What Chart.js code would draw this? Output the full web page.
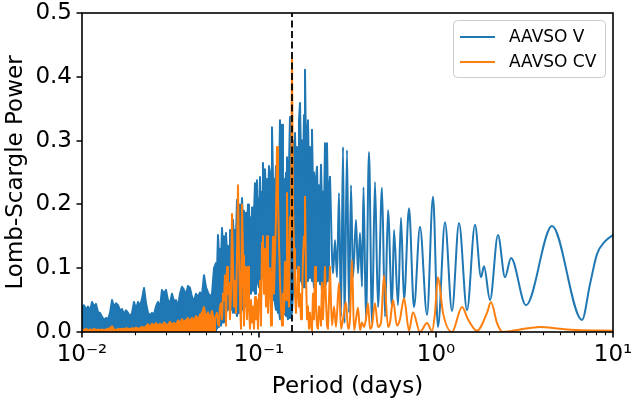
<!DOCTYPE html>
<html><head><meta charset="utf-8">
<script src="https://cdn.jsdelivr.net/npm/chart.js@4.4.1/dist/chart.umd.min.js"></script>
<style>html,body{margin:0;padding:0;background:#fff}canvas{display:block}</style>
</head><body>
<canvas id="c" width="632" height="400"></canvas>
<script>
// ---------- data ----------
const seriesNames = ['AAVSO V', 'AAVSO CV'];
const markerPeriod = 0.1536;  // dashed vertical line (days)

// short periods: dense part (0.01 - 0.057 d)
const periodA = [0.01000,0.01026,0.01053,0.01081,0.01110,0.01139,0.01169,0.01200,0.01232,0.01264,
 0.01297,0.01332,0.01367,0.01403,0.01440,0.01478,0.01517,0.01557,0.01598,0.01640,
 0.01683,0.01727,0.01773,0.01820,0.01868,0.01917,0.01967,0.02019,0.02073,0.02127,
 0.02183,0.02241,0.02300,0.02361,0.02421,0.02485,0.02550,0.02618,0.02687,0.02758,
 0.02830,0.02905,0.02982,0.03060,0.03141,0.03224,0.03309,0.03396,0.03486,0.03577,
 0.03672,0.03769,0.03868,0.03970,0.04074,0.04182,0.04292,0.04405,0.04521,0.04642,
 0.04764,0.04890,0.05019,0.05151,0.05286,0.05426,0.05569,0.05715];
const blueA = [0.038,0.042,0.035,0.040,0.033,0.047,0.040,0.044,0.031,0.030,
 0.024,0.019,0.022,0.020,0.030,0.050,0.040,0.045,0.042,0.034,
 0.036,0.028,0.034,0.030,0.024,0.030,0.047,0.036,0.047,0.040,
 0.052,0.069,0.045,0.030,0.026,0.030,0.027,0.040,0.047,0.038,
 0.066,0.060,0.066,0.050,0.045,0.060,0.048,0.050,0.040,0.060,
 0.071,0.066,0.058,0.072,0.069,0.055,0.048,0.060,0.055,0.062,
 0.058,0.089,0.070,0.062,0.055,0.060,0.100,0.108];
const orangeA = [0.004,0.003,0.005,0.003,0.004,0.003,0.005,0.003,0.004,0.003,
 0.004,0.003,0.004,0.005,0.006,0.009,0.004,0.003,0.005,0.004,
 0.005,0.004,0.006,0.005,0.004,0.006,0.005,0.007,0.005,0.006,
 0.008,0.006,0.009,0.012,0.008,0.013,0.009,0.014,0.010,0.013,
 0.009,0.015,0.012,0.010,0.016,0.012,0.014,0.011,0.018,0.014,
 0.020,0.015,0.019,0.022,0.016,0.022,0.018,0.025,0.019,0.027,
 0.030,0.039,0.022,0.031,0.020,0.033,0.018,0.025];

// middle periods (0.058 - 0.25 d)
const periodB = [0.05790,0.05866,0.05943,0.06021,0.06100,0.06180,0.06261,0.06342,0.06426,0.06510,
 0.06595,0.06681,0.06769,0.06857,0.06947,0.07038,0.07130,0.07224,0.07318,0.07414,
 0.07511,0.07609,0.07709,0.07810,0.07912,0.08016,0.08121,0.08227,0.08335,0.08444,
 0.08555,0.08667,0.08780,0.08895,0.09012,0.09130,0.09249,0.09370,0.09493,0.09617,
 0.09743,0.09871,0.1000,0.1013,0.1026,0.1040,0.1053,0.1067,0.1081,0.1095,
 0.1110,0.1124,0.1139,0.1154,0.1169,0.1184,0.1200,0.1215,0.1231,0.1247,
 0.1264,0.1280,0.1297,0.1314,0.1331,0.1349,0.1366,0.1384,0.1402,0.1421,
 0.1439,0.1458,0.1477,0.1497,0.1516,0.1536,0.1556,0.1577,0.1597,0.1618,
 0.1639,0.1661,0.1682,0.1704,0.1727,0.1749,0.1772,0.1796,0.1819,0.1843,
 0.1867,0.1891,0.1916,0.1941,0.1967,0.1992,0.2018,0.2045,0.2072,0.2099,
 0.2126,0.2154,0.2182,0.2211,0.2240,0.2269,0.2299,0.2329,0.2359,0.2390,
 0.2422,0.2453,0.2485,0.2518];
const blueBHigh = [.095,.152,.120,.130,.110,.163,.130,.150,.125,.155,
 .120,.135,.110,.160,.130,.150,.176,.140,.160,.150,
 .207,.170,.185,.200,.160,.210,.175,.190,.150,.187,
 .160,.200,.165,.180,.150,.195,.160,.185,.233,.190,
 .238,.200,.210,.243,.190,.220,.265,.200,.255,.210,
 .240,.200,.260,.250,.210,.321,.240,.230,.200,.260,
 .220,.255,.230,.332,.260,.325,.220,.240,.200,.250,
 .274,.220,.260,.337,.250,.280,.230,.300,.312,.250,
 .290,.240,.330,.359,.270,.300,.250,.340,.411,.280,
 .300,.332,.250,.290,.240,.317,.230,.250,.200,.240,
 .259,.190,.230,.180,.262,.200,.220,.180,.296,.230,
 .296,.200,.220,.243];
const blueBLow = [.005,.010,.008,.015,.010,.020,.015,.025,.020,.030,
 .035,.045,.040,.050,.035,.045,.030,.040,.030,.035,
 .025,.035,.030,.040,.030,.045,.035,.050,.040,.060,
 .050,.070,.055,.075,.060,.080,.065,.075,.060,.070,
 .080,.090,.070,.095,.080,.100,.085,.108,.090,.080,
 .065,.070,.055,.060,.050,.060,.050,.055,.045,.035,
 .040,.030,.035,.020,.030,.034,.025,.035,.030,.025,
 .030,.020,.025,.022,.040,.030,.060,.090,.118,.100,
 .110,.090,.100,.080,.095,.075,.090,.070,.085,.075,
 .090,.080,.095,.085,.100,.080,.090,.070,.085,.075,
 .090,.080,.095,.075,.085,.065,.080,.070,.090,.075,
 .085,.080,.090,.085];
const orangeB = [.030,.012,.010,.040,.045,.020,.060,.050,.089,.010,
 .102,.060,.077,.020,.060,.185,.100,.040,.080,.030,
 .120,.230,.120,.050,.005,.200,.120,.010,.102,.060,
 .020,.102,.040,.005,.050,.015,.040,.005,.055,.020,
 .050,.005,.060,.080,.010,.140,.150,.060,.130,.040,
 .150,.030,.080,.100,.010,.080,.149,.060,.120,.180,
 .290,.212,.140,.080,.040,.010,.060,.030,.110,.050,
 .218,.080,.040,.180,.150,.427,.200,.130,.060,.030,
 .065,.102,.040,.060,.020,.045,.118,.150,.212,.090,
 .020,.040,.005,.030,.010,.002,.060,.020,.102,.040,
 .010,.005,.040,.030,.010,.077,.020,.060,.102,.050,
 .010,.005,.050,.102];

// long periods (0.25 - 10 d): resolved oscillations
const periodCBlue = [0.2518,0.2619,0.2688,0.2759,0.2831,0.2906,0.2983,0.3042,0.3142,0.3225,
 0.3310,0.3397,0.3532,0.3625,0.3721,0.3819,0.3894,0.4022,0.4182,0.4349,
 0.4522,0.4702,0.4953,0.5151,0.5356,0.5642,0.5790,0.6100,0.6343,0.6596,
 0.7039,0.7510,0.8120,0.8896,0.9619,1.026,1.124,1.231,1.349,1.497,
 1.661,1.796,1.867,2.019,2.240,2.454,2.653,3.225,4.522,6.681,7.415,8.120,9.013,10];
const blueC = [0.243,0.092,0.144,0.086,0.218,0.024,0.290,0.014,0.285,0.030,
 0.230,0.086,0.176,0.092,0.155,0.071,0.227,0.019,0.282,0.014,
 0.235,0.039,0.226,0.024,0.191,0.039,0.160,0.042,0.179,0.050,
 0.194,0.039,0.165,0.027,0.212,0.008,0.172,0.033,0.171,0.034,
 0.168,0.086,0.103,0.050,0.152,0.086,0.116,0.042,0.166,0.019,0.075,0.122,0.142,0.152];
const periodCOrange = [0.2518,0.2585,0.2653,0.2723,0.2831,0.2906,0.2983,0.3101,0.3183,0.3267,
 0.3353,0.3441,0.3532,0.3625,0.3721,0.3819,0.3920,0.4022,0.4128,0.4237,
 0.4349,0.4522,0.4702,0.4890,0.5085,0.5356,0.5497,0.5716,0.6022,0.6260,
 0.6596,0.7039,0.7415,0.8120,0.8896,0.9493,0.9871,1.026,1.095,1.231,
 1.403,1.516,1.704,1.942,2.045,2.212,2.391,2.983,3.869,5.019,6.260,10];
const orangeC = [0.102,0.010,0.040,0.008,0.077,0.005,0.020,0.047,0.005,0.020,
 0.113,0.003,0.020,0.038,0.003,0.015,0.008,0.020,0.045,0.005,
 0.010,0.045,0.008,0.015,0.089,0.008,0.015,0.050,0.010,0.020,
 0.053,0.002,0.031,0.000,0.014,0.001,0.030,0.086,0.030,0.000,
 0.039,0.020,0.002,0.030,0.047,0.014,0.000,0.004,0.008,0.005,0.003,0.002];

const xTickValues = [0.01, 0.1, 1, 10];
const xTickLabels = ['10\u207B\u00B2', '10\u207B\u00B9', '10\u2070', '10\u00B9'];
const yTickValues = [0, 0.1, 0.2, 0.3, 0.4, 0.5];
const yTickLabels = ['0.0', '0.1', '0.2', '0.3', '0.4', '0.5'];
// ---------------------------------------------------

const BLUE = '#1f77b4', ORANGE = '#ff7f0e';
const pts = (xs, ys) => xs.map((p, i) => ({x: p, y: ys[i]}));
const FONT = "'DejaVu Sans', 'Liberation Sans', sans-serif";
Chart.defaults.font.family = FONT;
Chart.defaults.color = '#000';

const lineBase = {pointRadius: 0, borderWidth: 2, borderJoinStyle: 'round', borderCapStyle: 'round', tension: 0};

const datasets = [
  // orange (drawn above blue)
  Object.assign({}, lineBase, {label: seriesNames[1], data: pts(periodA, orangeA), borderColor: ORANGE, backgroundColor: ORANGE, fill: 'origin', order: 1}),
  Object.assign({}, lineBase, {label: seriesNames[1], data: [{x: periodA[periodA.length-1], y: orangeA[orangeA.length-1]}].concat(pts(periodB, orangeB)), borderColor: ORANGE, fill: false, order: 1}),
  Object.assign({}, lineBase, {label: seriesNames[1], data: pts(periodCOrange, orangeC), borderColor: ORANGE, fill: false, cubicInterpolationMode: 'monotone', order: 1}),
  // blue
  Object.assign({}, lineBase, {label: seriesNames[0], data: pts(periodA, blueA).concat([{x: periodB[0], y: blueBHigh[0]}]), borderColor: BLUE, backgroundColor: BLUE, fill: 'origin', order: 2}),
  Object.assign({}, lineBase, {label: seriesNames[0], data: pts(periodB, blueBHigh), borderColor: BLUE, backgroundColor: BLUE, fill: '+1', order: 2}),
  Object.assign({}, lineBase, {label: seriesNames[0], data: pts(periodB, blueBLow), borderColor: BLUE, fill: false, order: 2}),
  Object.assign({}, lineBase, {label: seriesNames[0], data: pts(periodCBlue, blueC), borderColor: BLUE, fill: false, cubicInterpolationMode: 'monotone', order: 2}),
  // dashed marker
  {label: 'marker', data: [{x: markerPeriod, y: 0}, {x: markerPeriod, y: 0.5}], borderColor: '#000', borderWidth: 1.8, borderDash: [7, 3.5], pointRadius: 0, fill: false, order: 0}
];

const axesFrame = {
  id: 'axesFrame',
  afterDraw(chart) {
    const {ctx, chartArea: a, scales: {x, y}} = chart;
    ctx.save();
    ctx.strokeStyle = '#000';
    ctx.lineCap = 'butt';
    // major ticks
    ctx.lineWidth = 1.6;
    ctx.beginPath();
    xTickValues.forEach(v => { const p = Math.round(x.getPixelForValue(v)) ; ctx.moveTo(p, a.bottom); ctx.lineTo(p, a.bottom + 5.5); });
    yTickValues.forEach(v => { const p = Math.round(y.getPixelForValue(v)); ctx.moveTo(a.left, p); ctx.lineTo(a.left - 5.5, p); });
    ctx.stroke();
    // minor ticks
    ctx.lineWidth = 1.1;
    ctx.beginPath();
    for (let d = 0; d < xTickValues.length - 1; d++) {
      for (let k = 2; k <= 9; k++) {
        const p = Math.round(x.getPixelForValue(k * xTickValues[d])) + 0.5;
        ctx.moveTo(p, a.bottom); ctx.lineTo(p, a.bottom + 3.2);
      }
    }
    ctx.stroke();
    // spines
    ctx.lineWidth = 1.6;
    ctx.strokeRect(a.left, a.top, a.right - a.left, a.bottom - a.top);
    // legend
    const bx = a.right - 160, by = a.top + 7, bw = 152, bh = 57;
    ctx.beginPath();
    ctx.roundRect(bx + 0.5, by + 0.5, bw, bh, 4);
    ctx.fillStyle = 'rgba(255,255,255,0.8)';
    ctx.fill();
    ctx.lineWidth = 1;
    ctx.strokeStyle = '#cccccc';
    ctx.stroke();
    const colors = [BLUE, ORANGE];
    ctx.font = '17px ' + FONT;
    ctx.textBaseline = 'middle';
    ctx.textAlign = 'left';
    seriesNames.forEach((name, i) => {
      const ly = by + 17 + i * 25;
      ctx.beginPath();
      ctx.strokeStyle = colors[i];
      ctx.lineWidth = 2;
      ctx.moveTo(bx + 7, ly); ctx.lineTo(bx + 42, ly);
      ctx.stroke();
      ctx.fillStyle = '#000';
      ctx.fillText(name, bx + 56, ly + 1);
    });
    ctx.restore();
  }
};

new Chart(document.getElementById('c'), {
  type: 'line',
  data: {datasets},
  options: {
    responsive: false,
    animation: false,
    events: [],
    layout: {padding: {top: 13, right: 19, left: 0, bottom: 0}},
    plugins: {legend: {display: false}, tooltip: {enabled: false}},
    scales: {
      x: {
        type: 'logarithmic', min: 0.01, max: 10,
        grid: {display: false, drawTicks: false},
        border: {display: false},
        afterBuildTicks: s => { s.ticks = xTickValues.map(v => ({value: v})); },
        afterFit: s => { s.height = 68; s.paddingLeft = 0; s.paddingRight = 0; },
        ticks: {autoSkip: false, maxRotation: 0, minRotation: 0, padding: 9, font: {size: 23},
                callback: (v, i) => xTickLabels[i]},
        title: {display: true, text: 'Period (days)', font: {size: 23, lineHeight: 1}, padding: {top: 0, bottom: 1}}
      },
      y: {
        type: 'linear', min: 0, max: 0.5,
        grid: {display: false, drawTicks: false},
        border: {display: false},
        afterBuildTicks: s => { s.ticks = yTickValues.map(v => ({value: v})); },
        afterFit: s => { s.width = 82; s.paddingTop = 0; s.paddingBottom = 0; },
        ticks: {autoSkip: false, padding: 10, font: {size: 23}, callback: (v, i) => yTickLabels[i]},
        title: {display: true, text: 'Lomb-Scargle Power', font: {size: 23, lineHeight: 1}, padding: {top: 5, bottom: 0}}
      }
    }
  },
  plugins: [axesFrame]
});
</script>
</body></html>
